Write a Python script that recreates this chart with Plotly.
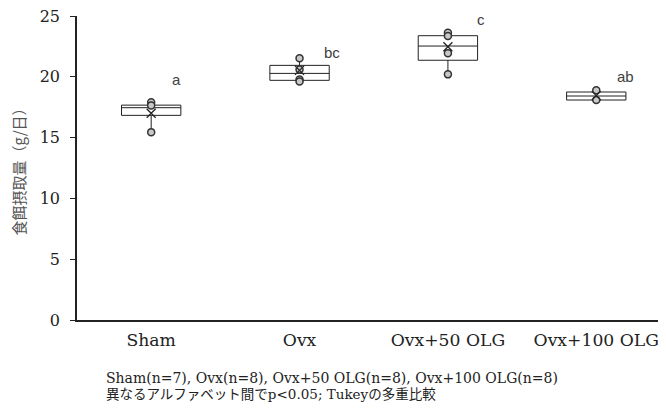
import plotly.graph_objects as go

categories = ["Sham", "Ovx", "Ovx+50 OLG", "Ovx+100 OLG"]
q1 = [16.83, 19.71, 21.36, 18.09]
median = [17.46, 20.28, 22.53, 18.42]
q3 = [17.67, 20.94, 23.38, 18.75]
lower = [15.45, 19.62, 20.2, 18.09]
upper = [17.9, 21.52, 23.63, 18.89]
means = [17.0, 20.53, 22.47, 18.45]
points = [
    [17.9, 17.65, 15.45],
    [21.52, 20.6, 19.78, 19.62],
    [23.63, 23.36, 21.93, 20.2],
    [18.89, 18.09],
]
letters = ["a", "bc", "c", "ab"]
letter_y = [19.75, 22.0, 24.7, 20.05]
letter_dx = [0.17, 0.22, 0.22, 0.2]
yticks = [0, 5, 10, 15, 20, 25]
footnote = ["Sham(n=7), Ovx(n=8), Ovx+50 OLG(n=8), Ovx+100 OLG(n=8)",
            "異なるアルファベット間でp<0.05; Tukeyの多重比較"]
footnote_sizes = [14, 13.5]

pos = list(range(len(categories)))
serif = "DejaVu Serif, Noto Sans CJK JP, serif"

fig = go.Figure()
fig.add_trace(go.Box(
    x=pos, q1=q1, median=median, q3=q3, lowerfence=lower, upperfence=upper,
    width=0.4, whiskerwidth=0, fillcolor="rgba(255,255,255,0)",
    line=dict(color="#222222", width=1), boxpoints=False, showlegend=False,
    hoverinfo="skip"))

for i, pts in enumerate(points):
    fig.add_trace(go.Scatter(
        x=[pos[i]] * len(pts), y=pts, mode="markers", showlegend=False,
        marker=dict(symbol="circle", size=7, color="#c8c8c8",
                    line=dict(color="#333333", width=1.5))))

fig.add_trace(go.Scatter(
    x=pos, y=means, mode="markers", showlegend=False,
    marker=dict(symbol="x-thin", size=9, line=dict(color="#222222", width=1.3))))

for i, t in enumerate(letters):
    fig.add_annotation(x=pos[i] + letter_dx[i], y=letter_y[i], text=t,
                       showarrow=False, xref="x", yref="y",
                       font=dict(family="Liberation Sans, Arial, sans-serif",
                                 size=15, color="#404040"))

for k, line in enumerate(footnote):
    fig.add_annotation(xref="paper", yref="paper", x=0, y=0, xanchor="left",
                       yanchor="middle", xshift=27, yshift=-(58 + 16 * k),
                       align="left", showarrow=False, text=line,
                       font=dict(family=serif, size=footnote_sizes[k],
                                 color="#222222"))

fig.update_layout(
    width=658, height=402,
    margin=dict(l=69, r=0, t=8, b=90),
    paper_bgcolor="white", plot_bgcolor="white",
    font=dict(family=serif, color="#222222"),
    xaxis=dict(range=[-0.5, 3.47], tickvals=pos, ticktext=categories,
               showline=True, linecolor="#222222", linewidth=1.5,
               ticks="", showgrid=False, zeroline=False, automargin=False,
               ticklabelstandoff=4,
               tickfont=dict(family=serif, size=17.2, color="#222222")),
    yaxis=dict(range=[0, 25], tickvals=yticks, showline=True,
               linecolor="#222222", linewidth=1.5, ticks="outside",
               ticklen=5, tickcolor="#222222", showgrid=False,
               zeroline=False, automargin=False, ticklabelstandoff=7,
               ticklabeloverflow="allow",
               tickfont=dict(family=serif, size=16, color="#222222"),
               title=dict(text="食餌摂取量（g/日）", standoff=19,
                          font=dict(family="Noto Sans CJK JP, sans-serif",
                                    size=15, color="#555555"))),
)

fig.write_html("out.html")
